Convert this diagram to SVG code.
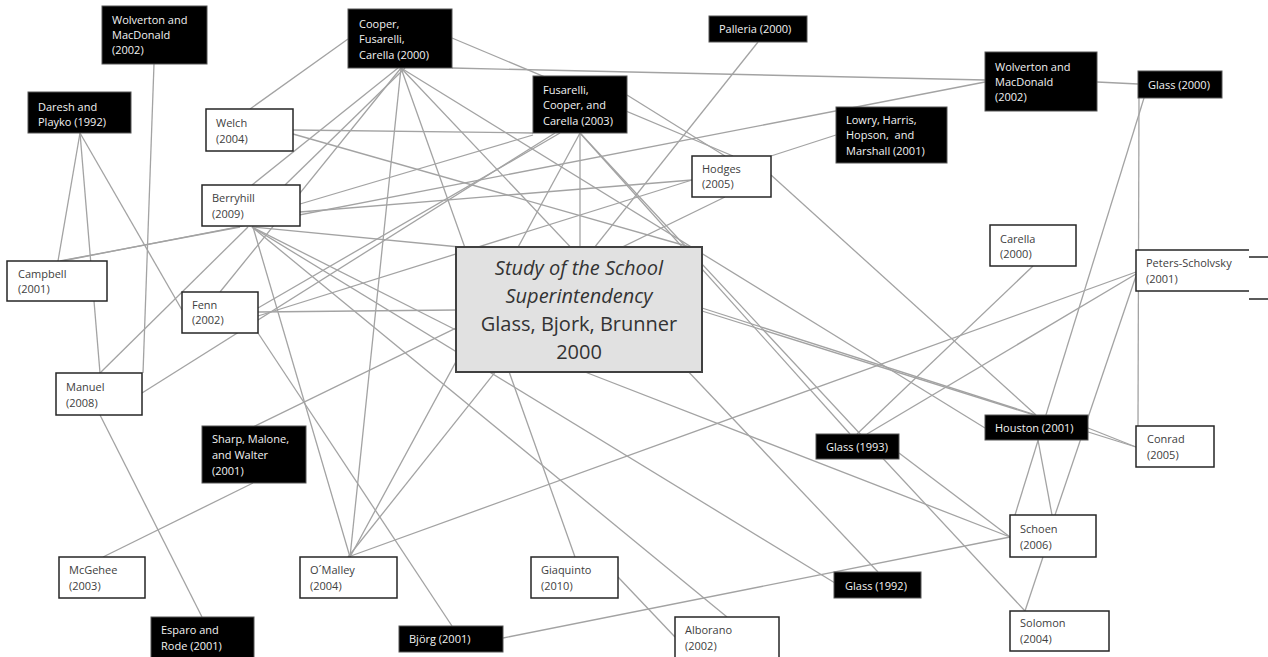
<svg xmlns="http://www.w3.org/2000/svg" width="1268" height="657" viewBox="0 0 1268 657">
<style>
.c line{stroke:#a3a3a3;stroke-width:1.3;fill:none}
.wb{fill:#fff;stroke:#262626;stroke-width:1.5}
.bb{fill:#000;stroke:#555;stroke-width:1}
.tw{font-family:"Open Sans","Liberation Sans",sans-serif;font-size:11px;fill:#f2f2f2}
.td{font-family:"Open Sans","Liberation Sans",sans-serif;font-size:11px;fill:#404040}
.ct{font-family:"Open Sans","Liberation Sans",sans-serif;font-size:20px;fill:#333;text-anchor:middle}
</style>
<rect width="1268" height="657" fill="#fff"/>
<g class="c" id="connectors">
<line x1="154" y1="64" x2="143" y2="373"/>
<line x1="80" y1="133" x2="58" y2="261"/>
<line x1="80" y1="133" x2="100" y2="373"/>
<line x1="80" y1="133" x2="182" y2="310"/>
<line x1="348" y1="39" x2="250" y2="109"/>
<line x1="452" y1="38" x2="733" y2="156"/>
<line x1="452" y1="68" x2="985" y2="80"/>
<line x1="293" y1="130" x2="533" y2="133"/>
<line x1="293" y1="134" x2="690" y2="247"/>
<line x1="252" y1="185" x2="398" y2="68"/>
<line x1="285" y1="185" x2="405" y2="68"/>
<line x1="220" y1="292" x2="401" y2="68"/>
<line x1="60" y1="261" x2="240" y2="227"/>
<line x1="62" y1="261" x2="985" y2="82"/>
<line x1="100" y1="373" x2="248" y2="227"/>
<line x1="300" y1="212" x2="692" y2="180"/>
<line x1="533" y1="135" x2="300" y2="204"/>
<line x1="258" y1="316" x2="692" y2="180"/>
<line x1="258" y1="308" x2="560" y2="133"/>
<line x1="258" y1="312" x2="456" y2="310"/>
<line x1="142" y1="393" x2="555" y2="133"/>
<line x1="258" y1="333" x2="452" y2="626"/>
<line x1="253" y1="227" x2="350" y2="557"/>
<line x1="252" y1="227" x2="727" y2="617"/>
<line x1="252" y1="227" x2="835" y2="583"/>
<line x1="252" y1="227" x2="470" y2="248"/>
<line x1="252" y1="227" x2="456" y2="330"/>
<line x1="401" y1="68" x2="350" y2="557"/>
<line x1="580" y1="133" x2="350" y2="557"/>
<line x1="758" y1="42" x2="348" y2="557"/>
<line x1="401" y1="68" x2="575" y2="557"/>
<line x1="580" y1="133" x2="580" y2="247"/>
<line x1="580" y1="133" x2="850" y2="434"/>
<line x1="580" y1="133" x2="1025" y2="611"/>
<line x1="627" y1="95" x2="725" y2="156"/>
<line x1="401" y1="68" x2="878" y2="572"/>
<line x1="401" y1="68" x2="985" y2="428"/>
<line x1="253" y1="427" x2="725" y2="197"/>
<line x1="253" y1="483" x2="103" y2="557"/>
<line x1="100" y1="415" x2="202" y2="617"/>
<line x1="1136" y1="272" x2="348" y2="557"/>
<line x1="1136" y1="274" x2="867" y2="434"/>
<line x1="1136" y1="276" x2="1055" y2="515"/>
<line x1="1033" y1="266" x2="857" y2="434"/>
<line x1="1144" y1="98" x2="1015" y2="515"/>
<line x1="1139" y1="98" x2="1138" y2="426"/>
<line x1="1097" y1="82" x2="1138" y2="84"/>
<line x1="1038" y1="440" x2="1052" y2="515"/>
<line x1="1088" y1="428" x2="1136" y2="447"/>
<line x1="702" y1="308" x2="1036" y2="415"/>
<line x1="702" y1="311" x2="1136" y2="447"/>
<line x1="771" y1="175" x2="1036" y2="415"/>
<line x1="836" y1="135" x2="771" y2="156"/>
<line x1="1043" y1="557" x2="1025" y2="611"/>
<line x1="899" y1="453" x2="1010" y2="537"/>
<line x1="585" y1="372" x2="1010" y2="537"/>
<line x1="503" y1="638" x2="1010" y2="537"/>
<line x1="618" y1="577" x2="675" y2="637"/>
</g>
<g id="wm1"><rect class="bb" x="102" y="6" width="105" height="58"/><text class="tw" x="112" y="24">Wolverton and</text><text class="tw" x="112" y="39">MacDonald</text><text class="tw" x="112" y="54">(2002)</text></g>
<g id="daresh"><rect class="bb" x="28" y="92" width="103" height="41"/><text class="tw" x="38" y="111">Daresh and</text><text class="tw" x="38" y="126">Playko (1992)</text></g>
<g id="welch"><rect class="wb" x="206" y="109" width="87" height="42"/><text class="td" x="216" y="127">Welch</text><text class="td" x="216" y="143">(2004)</text></g>
<g id="berryhill"><rect class="wb" x="202" y="185" width="98" height="41"/><text class="td" x="212" y="202">Berryhill</text><text class="td" x="212" y="218">(2009)</text></g>
<g id="cfc"><rect class="bb" x="348" y="9" width="104" height="59"/><text class="tw" x="359" y="28">Cooper,</text><text class="tw" x="359" y="43">Fusarelli,</text><text class="tw" x="359" y="59">Carella (2000)</text></g>
<g id="fcc"><rect class="bb" x="533" y="76" width="94" height="57"/><text class="tw" x="543" y="94">Fusarelli,</text><text class="tw" x="543" y="109">Cooper, and</text><text class="tw" x="543" y="125">Carella (2003)</text></g>
<g id="palleria"><rect class="bb" x="709" y="16" width="98" height="26"/><text class="tw" x="719" y="33">Palleria (2000)</text></g>
<g id="lowry"><rect class="bb" x="836" y="107" width="111" height="56"/><text class="tw" x="846" y="124">Lowry, Harris,</text><text class="tw" x="846" y="139" xml:space="preserve">Hopson,  and</text><text class="tw" x="846" y="155">Marshall (2001)</text></g>
<g id="hodges"><rect class="wb" x="692" y="156" width="79" height="41"/><text class="td" x="702" y="173">Hodges</text><text class="td" x="702" y="188">(2005)</text></g>
<g id="wm2"><rect class="bb" x="985" y="52" width="112" height="59"/><text class="tw" x="995" y="71">Wolverton and</text><text class="tw" x="995" y="86">MacDonald</text><text class="tw" x="995" y="101">(2002)</text></g>
<g id="glass2000"><rect class="bb" x="1138" y="71" width="84" height="27"/><text class="tw" x="1148" y="89">Glass (2000)</text></g>
<g id="campbell"><rect class="wb" x="7" y="261" width="100" height="40"/><text class="td" x="18" y="278">Campbell</text><text class="td" x="18" y="293">(2001)</text></g>
<g id="fenn"><rect class="wb" x="182" y="292" width="76" height="41"/><text class="td" x="192" y="309">Fenn</text><text class="td" x="192" y="324">(2002)</text></g>
<g id="manuel"><rect class="wb" x="56" y="373" width="86" height="42"/><text class="td" x="66" y="391">Manuel</text><text class="td" x="66" y="407">(2008)</text></g>
<g id="sharp"><rect class="bb" x="202" y="426" width="104" height="57"/><text class="tw" x="212" y="443">Sharp, Malone,</text><text class="tw" x="212" y="459">and Walter</text><text class="tw" x="212" y="475">(2001)</text></g>
<g id="central"><rect x="456" y="247" width="246" height="125" fill="#e1e1e1" stroke="#404040" stroke-width="2"/><text class="ct" x="579" y="275" font-style="italic">Study of the School</text><text class="ct" x="579" y="303" font-style="italic">Superintendency</text><text class="ct" x="579" y="331">Glass, Bjork, Brunner</text><text class="ct" x="579" y="359">2000</text></g>
<g id="carella"><rect class="wb" x="990" y="225" width="86" height="41"/><text class="td" x="1000" y="243">Carella</text><text class="td" x="1000" y="258">(2000)</text></g>
<g id="peters"><rect x="1136" y="250" width="113" height="41" fill="#fff"/><path d="M1249,250H1136V291H1249M1249,257H1268M1249,299H1268" fill="none" stroke="#262626" stroke-width="1.5"/><text class="td" x="1146" y="267">Peters-Scholvsky</text><text class="td" x="1146" y="283">(2001)</text></g>
<g id="houston"><rect class="bb" x="985" y="415" width="103" height="25"/><text class="tw" x="995" y="432">Houston (2001)</text></g>
<g id="glass1993"><rect class="bb" x="816" y="434" width="83" height="25"/><text class="tw" x="826" y="451">Glass (1993)</text></g>
<g id="conrad"><rect class="wb" x="1136" y="426" width="78" height="41"/><text class="td" x="1147" y="443">Conrad</text><text class="td" x="1147" y="459">(2005)</text></g>
<g id="schoen"><rect class="wb" x="1010" y="515" width="86" height="42"/><text class="td" x="1020" y="533">Schoen</text><text class="td" x="1020" y="549">(2006)</text></g>
<g id="solomon"><rect class="wb" x="1010" y="611" width="99" height="40"/><text class="td" x="1020" y="627">Solomon</text><text class="td" x="1020" y="643">(2004)</text></g>
<g id="glass1992"><rect class="bb" x="834" y="572" width="87" height="26"/><text class="tw" x="845" y="590">Glass (1992)</text></g>
<g id="mcgehee"><rect class="wb" x="59" y="557" width="86" height="41"/><text class="td" x="69" y="574">McGehee</text><text class="td" x="69" y="590">(2003)</text></g>
<g id="omalley"><rect class="wb" x="300" y="557" width="97" height="41"/><text class="td" x="310" y="574">O´Malley</text><text class="td" x="310" y="590">(2004)</text></g>
<g id="esparo"><rect class="bb" x="151" y="617" width="103" height="42"/><text class="tw" x="161" y="634">Esparo and</text><text class="tw" x="161" y="650">Rode (2001)</text></g>
<g id="bjorg"><rect class="bb" x="399" y="626" width="104" height="26"/><text class="tw" x="409" y="643">Björg (2001)</text></g>
<g id="giaquinto"><rect class="wb" x="531" y="557" width="87" height="41"/><text class="td" x="541" y="574">Giaquinto</text><text class="td" x="541" y="590">(2010)</text></g>
<g id="alborano"><rect class="wb" x="675" y="617" width="104" height="42"/><text class="td" x="685" y="634">Alborano</text><text class="td" x="685" y="650">(2002)</text></g>
</svg>
